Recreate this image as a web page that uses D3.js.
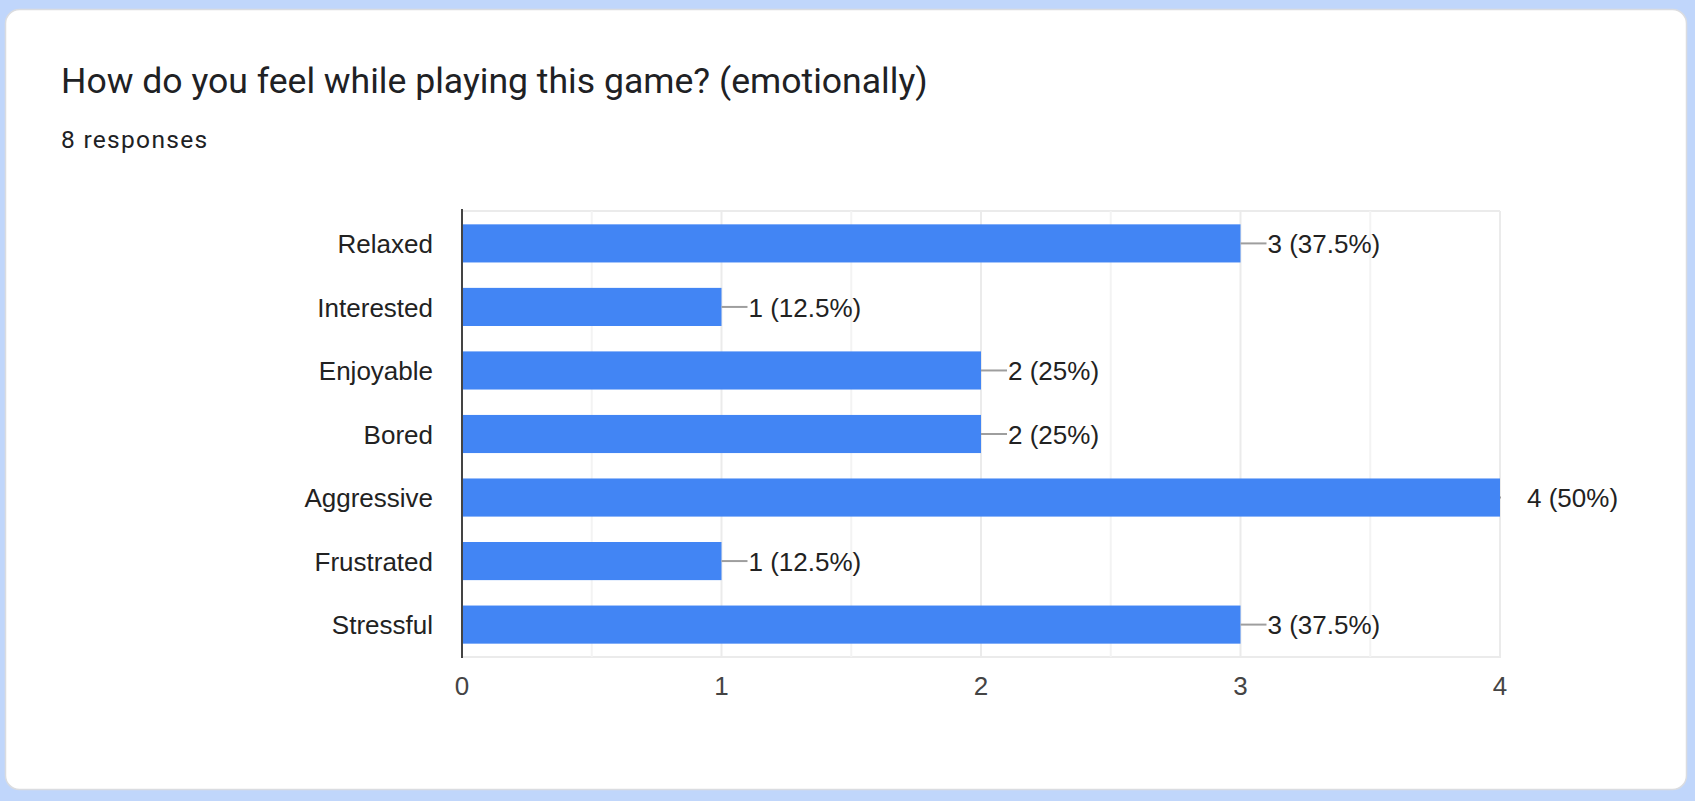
<!DOCTYPE html>
<html>
<head>
<meta charset="utf-8">
<script src="https://cdn.jsdelivr.net/npm/d3@7"></script>
<style>
  html, body { margin: 0; padding: 0; background: #c0d6fb; }
  svg { display: block; }
</style>
</head>
<body>
<svg id="chart" width="1695" height="801"></svg>
<script>
const title = "How do you feel while playing this game? (emotionally)";
const subtitle = "8 responses";
const categories = ["Relaxed", "Interested", "Enjoyable", "Bored", "Aggressive", "Frustrated", "Stressful"];
const counts = [3, 1, 2, 2, 4, 1, 3];
const totalResponses = 8;
const xTicks = [0, 1, 2, 3, 4];
const xGrid = [0.5, 1, 1.5, 2, 2.5, 3, 3.5, 4];

(function () {
const svg = d3.select("#chart");

svg.append("rect")
  .attr("x", 5.5).attr("y", 9.5).attr("width", 1681).attr("height", 780)
  .attr("rx", 14).attr("ry", 14)
  .attr("fill", "#ffffff").attr("stroke", "#dadce0").attr("stroke-width", 1.5);

svg.append("text")
  .attr("x", 61).attr("y", 93)
  .attr("font-family", "Roboto, 'Open Sans', sans-serif")
  .attr("font-size", 35.6).attr("fill", "#202124")
  .text(title);

svg.append("text")
  .attr("x", 61).attr("y", 148)
  .attr("font-family", "Roboto, sans-serif")
  .attr("font-size", 24.5).attr("letter-spacing", 1.3).attr("fill", "#202124")
  .text(subtitle);

const pL = 462, pR = 1500, pT = 211, pB = 657;
const x = d3.scaleLinear().domain([0, 4]).range([pL, pR]);
const y = d3.scaleBand().domain(categories).range([pT, pB]).paddingInner(0.40).paddingOuter(0.21);

const g = svg.append("g");

g.append("line").attr("x1", pL).attr("x2", pR).attr("y1", pT).attr("y2", pT)
  .attr("stroke", "#ebebeb").attr("stroke-width", 2);
g.append("line").attr("x1", pL).attr("x2", pR + 1).attr("y1", pB).attr("y2", pB)
  .attr("stroke", "#ebebeb").attr("stroke-width", 2);

g.selectAll(".grid").data(xGrid).join("line")
  .attr("x1", d => x(d)).attr("x2", d => x(d))
  .attr("y1", pT).attr("y2", pB)
  .attr("stroke", d => Number.isInteger(d) ? "#ebebeb" : "#f3f3f3")
  .attr("stroke-width", 2);

svg.append("defs").append("clipPath").attr("id", "plotclip")
  .append("rect").attr("x", pL).attr("y", pT).attr("width", pR - pL + 1).attr("height", pB - pT);

g.selectAll(".bar").data(categories).join("rect")
  .attr("x", x(0))
  .attr("y", d => y(d))
  .attr("width", (d, i) => x(counts[i]) - x(0))
  .attr("height", y.bandwidth())
  .attr("fill", "#4285f4");

g.append("g").attr("clip-path", "url(#plotclip)")
  .selectAll("line").data(categories).join("line")
  .attr("x1", (d, i) => x(counts[i]))
  .attr("x2", (d, i) => x(counts[i]) + 26)
  .attr("y1", d => y(d) + y.bandwidth() / 2)
  .attr("y2", d => y(d) + y.bandwidth() / 2)
  .attr("stroke", "#9e9e9e").attr("stroke-width", 2);

const pct = v => d3.format("~g")(v / totalResponses * 100);
g.selectAll(".val").data(categories).join("text")
  .attr("x", (d, i) => x(counts[i]) + 27)
  .attr("y", d => y(d) + y.bandwidth() / 2)
  .attr("dy", "0.37em")
  .attr("font-family", "'Liberation Sans', Arial, sans-serif")
  .attr("font-size", 26).attr("fill", "#222222")
  .text((d, i) => `${counts[i]} (${pct(counts[i])}%)`);

g.append("line").attr("x1", pL).attr("x2", pL).attr("y1", pT - 2).attr("y2", pB + 1)
  .attr("stroke", "#444444").attr("stroke-width", 2);

g.selectAll(".cat").data(categories).join("text")
  .attr("x", 433)
  .attr("y", d => y(d) + y.bandwidth() / 2)
  .attr("dy", "0.37em")
  .attr("text-anchor", "end")
  .attr("font-family", "'Liberation Sans', Arial, sans-serif")
  .attr("font-size", 26).attr("fill", "#222222")
  .text(d => d);

g.selectAll(".tick").data(xTicks).join("text")
  .attr("x", d => x(d))
  .attr("y", 695)
  .attr("text-anchor", "middle")
  .attr("font-family", "'Liberation Sans', Arial, sans-serif")
  .attr("font-size", 26).attr("fill", "#444444")
  .text(d => d);
})();
</script>
</body>
</html>
